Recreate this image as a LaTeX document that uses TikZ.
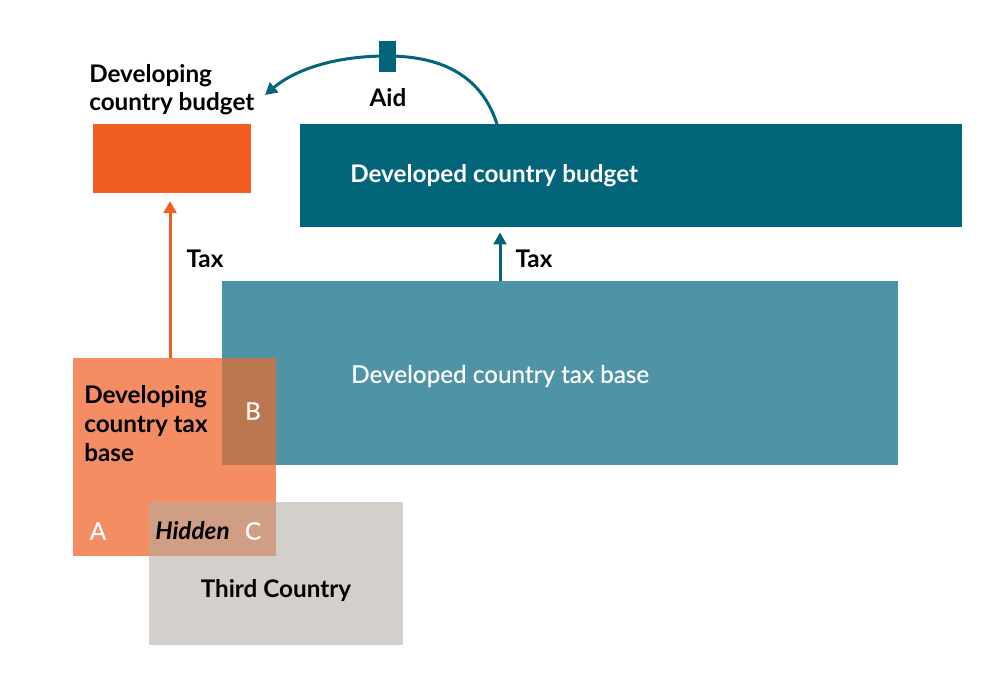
\documentclass[tikz,border=0pt]{standalone}
\usepackage{fontspec}
\setmainfont{Lato}
\newfontfamily\medfont{Lato}[FakeBold=0.5]
\usetikzlibrary{arrows.meta,calc}
\definecolor{dorange}{RGB}{241,93,34}
\definecolor{lorange}{RGB}{244,140,100}
\definecolor{dteal}{RGB}{3,101,122}
\definecolor{lteal}{RGB}{78,148,166}
\definecolor{brownB}{RGB}{187,118,82}
\definecolor{greyT}{RGB}{211,207,203}
\definecolor{tanC}{RGB}{208,158,132}
\tikzset{
  box/.style={draw=none,inner sep=0pt,outer sep=0pt,rectangle},
  lbl/.style={inner sep=0pt,font=\fontsize{18.2pt}{21pt}\selectfont\bfseries,text=black},
  wlbl/.style={inner sep=0pt,font=\fontsize{18.2pt}{21pt}\selectfont\medfont,text=white},
  conn/.style={line width=2.25pt,-{Triangle[length=9pt,width=9.5pt]}},
}
\begin{document}
\begin{tikzpicture}[x=0.75pt,y=-0.75pt]
\useasboundingbox (0,0) rectangle (1000,700);
% boxes
\node[box,fill=dorange,minimum width=158*0.75pt,minimum height=69*0.75pt] (dbud) at (172,158.5) {};
\node[box,fill=dteal,minimum width=662*0.75pt,minimum height=103*0.75pt] (Dbud) at (631,175.5) {};
\node[box,fill=lteal,minimum width=676*0.75pt,minimum height=184*0.75pt] (Dtax) at (560,373) {};
\node[box,fill=lorange,minimum width=203*0.75pt,minimum height=198*0.75pt] (dtax) at (174.5,457) {};
\node[box,fill=brownB,minimum width=54*0.75pt,minimum height=107*0.75pt] (ovB) at (249,411.5) {};
\node[box,fill=greyT,minimum width=254*0.75pt,minimum height=143*0.75pt] (third) at (276,573.5) {};
\node[box,fill=tanC,minimum width=127*0.75pt,minimum height=54*0.75pt] (ovC) at (212.5,529) {};
% texts
\node[lbl,anchor=west,align=left] (tdbud) at (89,90) {Developing\\country budget};
\node[lbl,text=white,anchor=west] (tDbud) at (350,176) {Developed country budget};
\node[wlbl,anchor=west] (tDtax) at (351,376) {Developed country tax base};
\node[lbl,anchor=west,align=left,font=\fontsize{18.2pt}{21.75pt}\selectfont\bfseries] (tdtax) at (84,424) {Developing\\country tax\\base};
\node[wlbl] (lB) at (253,411) {B};
\node[wlbl] (lA) at (98,531) {A};
\node[wlbl] (lC) at (253,531) {C};
\node[lbl,anchor=west,font=\fontsize{18.2pt}{21pt}\selectfont\bfseries\itshape] (hid) at (155,531) {Hidden};
\node[lbl] (tthird) at (276,591) {Third Country};
\node[lbl] (tax1) at (205,259) {Tax};
\node[lbl] (tax2) at (534,259) {Tax};
\node[lbl] (aid) at (388,98) {Aid};
% connectors
\coordinate (o1) at ($(dbud.south)+(-2,0)$);
\draw[conn,draw=dorange,shorten >=6pt] (o1 |- dtax.north) -- (o1);
\coordinate (t1) at ($(Dtax.north west)+(278,0)$);
\draw[conn,draw=dteal,shorten >=4pt] (t1) -- (t1 |- Dbud.south);
\coordinate (a0) at ($(Dbud.north west)+(197,0)$);
\coordinate (a1) at (265,95);
\coordinate (am) at (387,56);
\draw[conn,draw=dteal] (a0) .. controls (482,78) and (445,56) .. (am) .. controls (330,56) and (292,72) .. (a1);
\node[box,fill=dteal,minimum width=17*0.75pt,minimum height=31*0.75pt] (mark) at (am) {};
\end{tikzpicture}
\end{document}
